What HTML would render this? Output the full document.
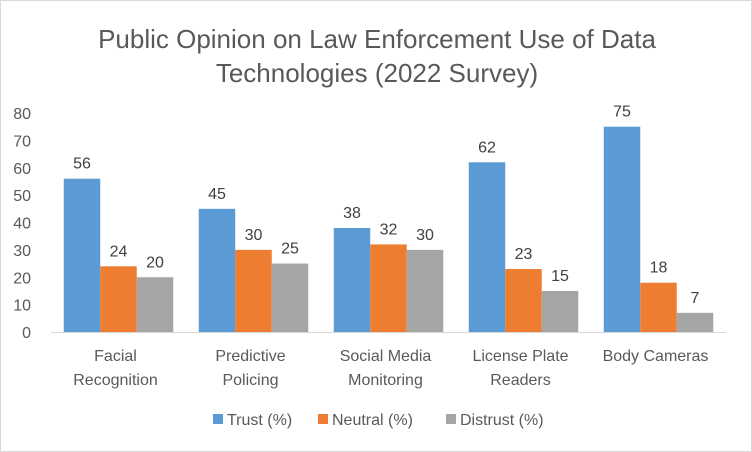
<!DOCTYPE html>
<html><head><meta charset="utf-8"><style>
body{margin:0;background:#fff;}
svg{display:block;font-family:"Liberation Sans",sans-serif;}
</style></head><body>
<svg id="chart" width="752" height="452">
<rect x="0.5" y="0.5" width="751" height="451" fill="#fff" stroke="#d9d9d9"/>
<text x="377" y="48" text-anchor="middle" font-size="26" fill="#595959">Public Opinion on Law Enforcement Use of Data</text>
<text x="377" y="82" text-anchor="middle" font-size="26" fill="#595959">Technologies (2022 Survey)</text>
<g id="plot"></g>
<g id="legend"></g>
</svg>
<script>
const categories=[["Facial","Recognition"],["Predictive","Policing"],["Social Media","Monitoring"],["License Plate","Readers"],["Body Cameras"]];
const trust=[56,45,38,62,75];
const neutral=[24,30,32,23,18];
const distrust=[20,25,30,15,7];
const yTicks=[0,10,20,30,40,50,60,70,80];
const seriesNames=["Trust (%)","Neutral (%)","Distrust (%)"];
const colors=["#5b9bd5","#ed7d31","#a5a5a5"];
const NS="http://www.w3.org/2000/svg";
const left=51,groupW=135,y0=332,y80=113;
const yScale=v=>y0-(v/80)*(y0-y80);
const xCenter=i=>left+groupW*(i+0.5);
const bw=36.5;
const plot=document.getElementById('plot');
function mk(t,a,txt){const e=document.createElementNS(NS,t);for(const k in a)e.setAttribute(k,a[k]);if(txt!==undefined)e.textContent=txt;return e;}
yTicks.forEach(v=>{const t=mk('text',{x:31,y:yScale(v)+6,'text-anchor':'end','font-size':16,fill:'#595959'},v);


plot.appendChild(t);});
const ax=mk('line',{x1:left,x2:left+groupW*5,y1:y0+0.5,y2:y0+0.5,stroke:'#d9d9d9'});


plot.appendChild(ax);
const series=[trust,neutral,distrust];
series.forEach((s,si)=>{s.forEach((v,i)=>{
const x=xCenter(i)-1.5*bw+si*bw;
const r=mk('rect',{x:x,y:yScale(v),width:bw,height:y0-yScale(v),fill:colors[si]});


plot.appendChild(r);
const l=mk('text',{x:x+bw/2,y:yScale(v)-10,'text-anchor':'middle','font-size':16,fill:'#404040'},v);


plot.appendChild(l);
});});
categories.forEach((c,i)=>{c.forEach((line,j)=>{
const t=mk('text',{x:xCenter(i)-3,y:361+j*24,'text-anchor':'middle','font-size':16,fill:'#595959'},line);


plot.appendChild(t);});});
const lg=document.getElementById('legend');
const lx=[213,318,446];
seriesNames.forEach((n,i)=>{
const r=mk('rect',{x:lx[i],y:414,width:10,height:10,fill:colors[i]});


lg.appendChild(r);
const t=mk('text',{x:lx[i]+14,y:425,'font-size':16,fill:'#595959'},n);


lg.appendChild(t);});
</script>
</body></html>
